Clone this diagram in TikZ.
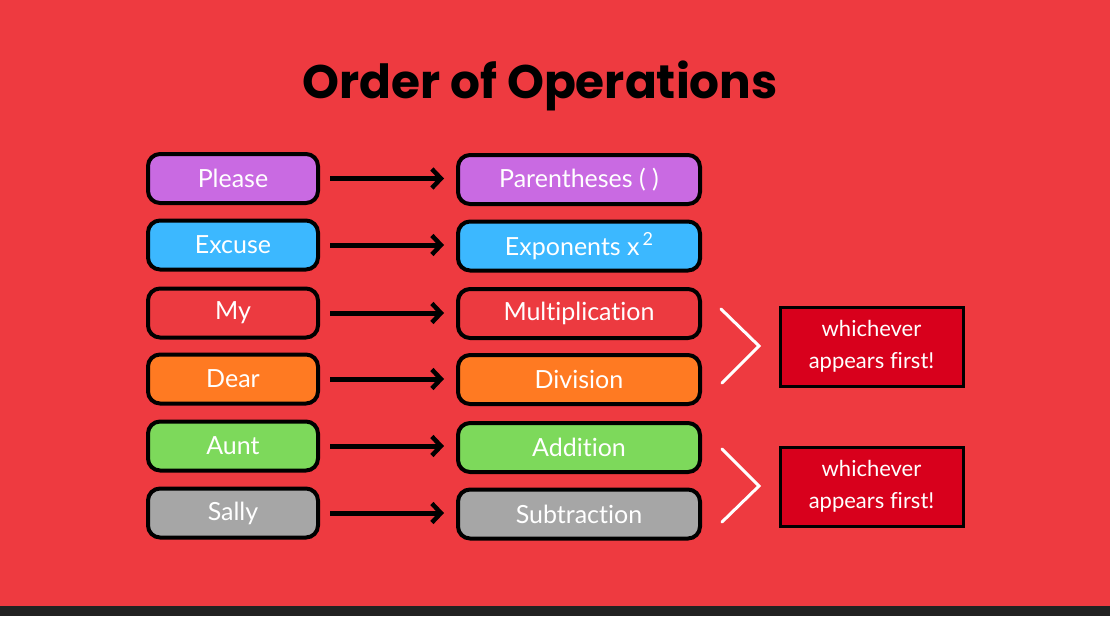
\documentclass[tikz,border=0pt]{standalone}
\usepackage{fontspec}
\setmainfont{Lato}[RawFeature={-liga}]
\newfontfamily\titlefont{Poppins}
\usetikzlibrary{arrows.meta}
\definecolor{bgred}{HTML}{EE3A40}
\definecolor{darkstrip}{HTML}{222222}
\definecolor{cpurple}{HTML}{C96AE2}
\definecolor{cblue}{HTML}{3CB8FF}
\definecolor{cred}{HTML}{EC3A40}
\definecolor{corange}{HTML}{FF7A22}
\definecolor{cgreen}{HTML}{7DD95B}
\definecolor{cgray}{HTML}{A6A6A6}
\definecolor{noteRed}{HTML}{D8001C}
\tikzset{
  wordbox/.style={draw=black, line width=4pt, rounded corners=12pt, minimum width=170pt, minimum height=49pt, text=white, font=\fontsize{25}{27}\selectfont, inner sep=0pt},
  opbox/.style={draw=black, line width=4pt, rounded corners=12pt, minimum width=242pt, minimum height=49pt, text=white, font=\fontsize{25}{27}\selectfont, inner sep=0pt},
  notebox/.style={draw=black, line width=3pt, fill=noteRed, minimum width=183pt, minimum height=79pt, text=white, font=\fontsize{22}{32}\selectfont, align=center, inner sep=0pt},
  maparrow/.style={draw=black, line width=5pt, -{Straight Barb[length=9pt,width=19pt,line width=4.5pt]}, shorten <=10pt, shorten >=12pt},
  chevron/.style={draw=white, line width=3pt, line cap=round, line join=miter}
}
\begin{document}
\begin{tikzpicture}[x=1pt,y=-1pt]
\useasboundingbox (0,0) rectangle (1110,616);
\fill[bgred] (0,0) rectangle (1110,616);
\fill[darkstrip] (0,606) rectangle (1110,616);
\node[font=\titlefont\bfseries\fontsize{47}{50}\selectfont, text=black] (title) at (540,86) {Order of Operations};

\node[wordbox, fill=cpurple] (l1) at (233,178.5) {Please};
\node[wordbox, fill=cblue]   (l2) at (233,245) {Excuse};
\node[wordbox, fill=cred]    (l3) at (233,313) {My};
\node[wordbox, fill=corange] (l4) at (233,379) {Dear};
\node[wordbox, fill=cgreen]  (l5) at (233,446) {Aunt};
\node[wordbox, fill=cgray]   (l6) at (233,513) {Sally};

\node[opbox, fill=cpurple] (r1) at (579,179.5) {Parentheses ( )};
\node[opbox, fill=cblue]   (r2) at (579,246) {Exponents x\raisebox{0.75ex}{\fontsize{18}{18}\selectfont\,2}};
\node[opbox, fill=cred]    (r3) at (579,313.5) {Multiplication};
\node[opbox, fill=corange] (r4) at (579,379.5) {Division};
\node[opbox, fill=cgreen]  (r5) at (579,447.5) {Addition};
\node[opbox, fill=cgray]   (r6) at (579,514) {Subtraction};

\foreach \i in {1,...,6}{
  \draw[maparrow] (l\i.east) -- (l\i.east -| r\i.west);
}

\coordinate (c1a) at (721,309);
\coordinate (c1b) at (759,346);
\coordinate (c1c) at (722,383);
\coordinate (c2a) at (722,449);
\coordinate (c2b) at (759,486);
\coordinate (c2c) at (722,522);
\draw[chevron] (c1a) -- (c1b) -- (c1c);
\draw[chevron] (c2a) -- (c2b) -- (c2c);

\node[notebox] (n1) at (871.5,346.5) {whichever\\appears first!};
\node[notebox] (n2) at (871.5,486.5) {whichever\\appears first!};
\end{tikzpicture}
\end{document}
